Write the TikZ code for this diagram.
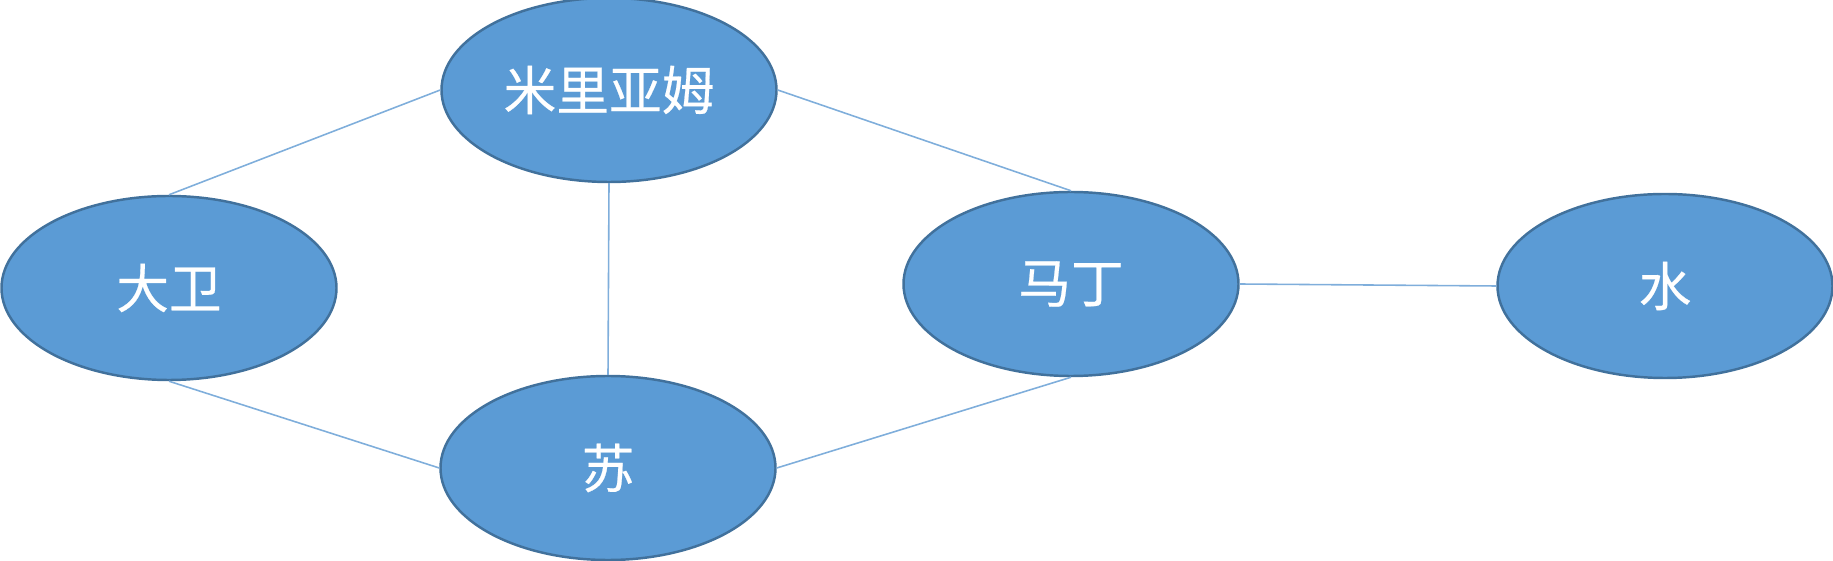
\documentclass[tikz,border=0pt]{standalone}
\usepackage{fontspec}
\newfontfamily\cjk[FakeBold=0.4]{Noto Sans CJK SC}
\usetikzlibrary{shapes.geometric}
\definecolor{nodeFill}{HTML}{5B9BD5}
\definecolor{nodeLine}{HTML}{41719C}
\definecolor{edgeLine}{HTML}{7FAEDB}
\tikzset{
  % --- people / things ----------------------------------------------------
  person/.style = {ellipse, draw=nodeLine, fill=nodeFill, line width=0.7pt,
                   minimum width=3.35cm, minimum height=1.84cm, inner sep=0pt,
                   text=white, font=\cjk\fontsize{15}{17}\selectfont},
  % --- relations ----------------------------------------------------------
  tie/.style    = {draw=edgeLine, line width=0.45pt},
}
\begin{document}
\begin{tikzpicture}
\useasboundingbox (0,0) rectangle (18.33,5.6);

% ------------------------------- nodes -------------------------------------
\node[person] (miriam) at (6.09,4.70) {米里亚姆};
\node[person] (david)  at (1.69,2.72) {大卫};
\node[person] (su)     at (6.08,0.92) {苏};
\node[person] (martin) at (10.71,2.76) {马丁};
\node[person] (water)  at (16.65,2.74) {水};

% ------------------------------- ties --------------------------------------
\draw[tie] (david.north)   -- (miriam.west);
\draw[tie] (miriam.east)   -- (martin.north);
\draw[tie] (miriam.south)  -- (su.north);
\draw[tie] (david.south)   -- (su.west);
\draw[tie] (su.east)       -- (martin.south);
\draw[tie] (martin.east)   -- (water.west);

\end{tikzpicture}
\end{document}
